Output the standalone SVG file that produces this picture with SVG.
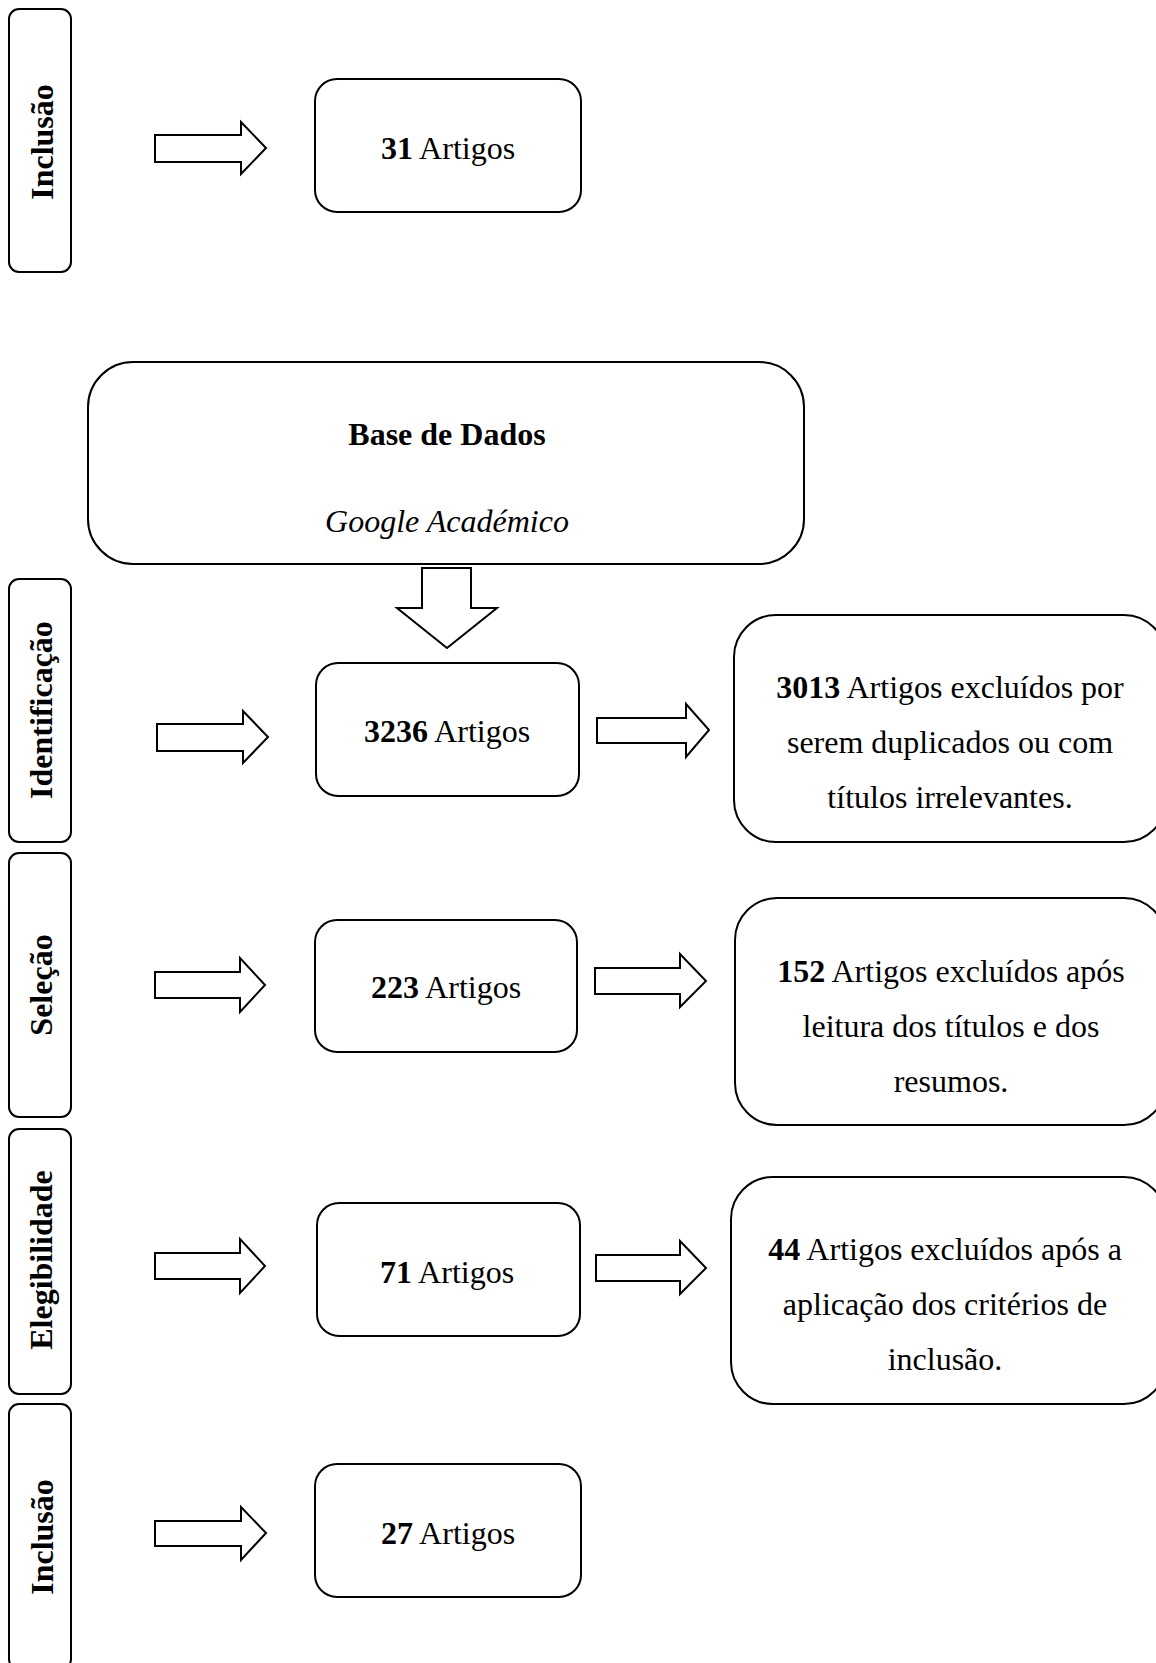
<svg xmlns="http://www.w3.org/2000/svg" width="1156" height="1663" viewBox="0 0 1156 1663">
<style>
.box{fill:#fff;stroke:#000;stroke-width:2}
.arr{fill:#fff;stroke:#000;stroke-width:2;stroke-linejoin:miter}
text{font-family:"Liberation Serif","Times New Roman",serif;font-size:32px;fill:#000}
.c{text-anchor:middle}
.b{font-weight:bold}
.i{font-style:italic}
</style>
<rect width="1156" height="1663" fill="#fff"/>
<g id="stage-inclusao-top">
<rect class="box" x="9" y="9" width="62" height="263" rx="10"/>
<text class="c b" transform="translate(53,142) rotate(-90)">Inclusão</text>
</g>
<g id="stage-identificacao">
<rect class="box" x="9" y="579" width="62" height="263" rx="10"/>
<text class="c b" transform="translate(52,710) rotate(-90)">Identificação</text>
</g>
<g id="stage-selecao">
<rect class="box" x="9" y="853" width="62" height="264" rx="10"/>
<text class="c b" transform="translate(52,985) rotate(-90)">Seleção</text>
</g>
<g id="stage-elegibilidade">
<rect class="box" x="9" y="1129" width="62" height="265" rx="10"/>
<text class="c b" transform="translate(52,1260) rotate(-90)">Elegibilidade</text>
</g>
<g id="stage-inclusao-bottom">
<rect class="box" x="9" y="1404" width="62" height="265" rx="10"/>
<text class="c b" transform="translate(53,1537) rotate(-90)">Inclusão</text>
</g>
<g id="n31">
<rect class="box" x="315" y="79" width="266" height="133" rx="22"/>
<text class="c" x="448" y="159"><tspan class="b">31</tspan> Artigos</text>
</g>
<g id="base">
<rect class="box" x="88" y="362" width="716" height="202" rx="45"/>
<text class="c b" x="447" y="445">Base de Dados</text>
<text class="c i" x="447" y="532">Google Académico</text>
</g>
<g id="n3236">
<rect class="box" x="316" y="663" width="263" height="133" rx="22"/>
<text class="c" x="447" y="742"><tspan class="b">3236</tspan> Artigos</text>
</g>
<g id="x3013">
<rect class="box" x="734" y="615" width="432" height="227" rx="42"/>
<text class="c" x="950" y="698"><tspan class="b">3013</tspan> Artigos excluídos por</text>
<text class="c" x="950" y="753">serem duplicados ou com</text>
<text class="c" x="950" y="808">títulos irrelevantes.</text>
</g>
<g id="n223">
<rect class="box" x="315" y="920" width="262" height="132" rx="22"/>
<text class="c" x="446" y="998"><tspan class="b">223</tspan> Artigos</text>
</g>
<g id="x152">
<rect class="box" x="735" y="898" width="431" height="227" rx="42"/>
<text class="c" x="951" y="982"><tspan class="b">152</tspan> Artigos excluídos após</text>
<text class="c" x="951" y="1037">leitura dos títulos e dos</text>
<text class="c" x="951" y="1092">resumos.</text>
</g>
<g id="n71">
<rect class="box" x="317" y="1203" width="263" height="133" rx="22"/>
<text class="c" x="447" y="1283"><tspan class="b">71</tspan> Artigos</text>
</g>
<g id="x44">
<rect class="box" x="731" y="1177" width="435" height="227" rx="42"/>
<text class="c" x="945" y="1260"><tspan class="b">44</tspan> Artigos excluídos após a</text>
<text class="c" x="945" y="1315">aplicação dos critérios de</text>
<text class="c" x="945" y="1370">inclusão.</text>
</g>
<g id="n27">
<rect class="box" x="315" y="1464" width="266" height="133" rx="22"/>
<text class="c" x="448" y="1544"><tspan class="b">27</tspan> Artigos</text>
</g>
<g id="connectors">
<polygon class="arr" points="155,135 241,135 241,122 266,148 241,174 241,162 155,162"/>
<polygon class="arr" points="422,568 471,568 471,608 497,608 447,648 397,608 422,608"/>
<polygon class="arr" points="157,724 243,724 243,711 268,737 243,763 243,751 157,751"/>
<polygon class="arr" points="597,718 686,718 686,704 709,730 686,757 686,743 597,743"/>
<polygon class="arr" points="155,972 240,972 240,958 265,985 240,1012 240,998 155,998"/>
<polygon class="arr" points="595,968 680,968 680,954 706,981 680,1007 680,994 595,994"/>
<polygon class="arr" points="155,1253 240,1253 240,1239 265,1266 240,1293 240,1279 155,1279"/>
<polygon class="arr" points="596,1255 680,1255 680,1241 706,1268 680,1294 680,1281 596,1281"/>
<polygon class="arr" points="155,1521 241,1521 241,1507 266,1533 241,1560 241,1546 155,1546"/>
</g>
</svg>
